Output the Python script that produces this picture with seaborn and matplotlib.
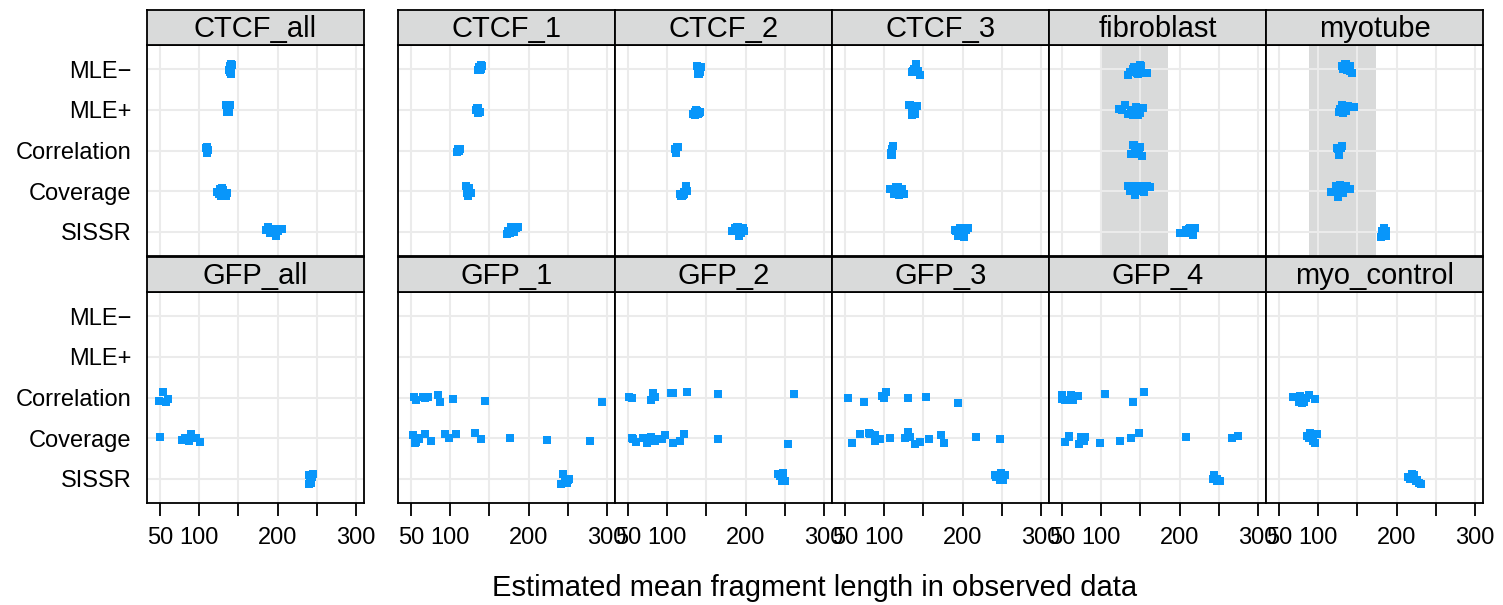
import numpy as np
import pandas as pd
import matplotlib
matplotlib.use("Agg")
import matplotlib.pyplot as plt
import seaborn as sns

sns.set_style("white")
plt.rcParams["font.family"] = ["Liberation Sans", "DejaVu Sans"]
plt.rcParams.update({"text.color": "black", "xtick.color": "black",
                     "ytick.color": "black", "axes.labelcolor": "black"})

METHODS = ["MLE−", "MLE+", "Correlation", "Coverage", "SISSR"]
TOP_PANELS = ["CTCF_all", "CTCF_1", "CTCF_2", "CTCF_3", "fibroblast", "myotube"]
BOTTOM_PANELS = ["GFP_all", "GFP_1", "GFP_2", "GFP_3", "GFP_4", "myo_control"]
X_TICKS = [50, 100, 150, 200, 250, 300]
X_TICK_LABELS = ["50", "100", "", "200", "", "300"]

# known fragment size ranges (grey bands)
SHADE_FIBROBLAST = (100, 185)
SHADE_MYOTUBE = (88, 174)

# estimated mean fragment length per replicate
CTCF_ALL = {
    "MLE−": [138, 139, 139.5, 140, 140.5, 141, 141.5, 139, 140, 141],
    "MLE+": [134, 135, 136, 137, 137.5, 138, 139, 136.5],
    "Correlation": [109, 109.5, 110, 110.5, 111, 110],
    "Coverage": [123, 125, 127, 129, 130, 132, 134, 136, 128, 131],
    "SISSR": [185, 188, 190, 193, 195, 197, 199, 201, 203, 205, 192, 198],
}
CTCF_1 = {
    "MLE−": [136, 137, 138, 139, 140, 141, 138.5, 139.5],
    "MLE+": [133, 134, 135, 136, 137, 138, 135.5],
    "Correlation": [109, 110, 111, 112, 110.5],
    "Coverage": [120, 121.5, 123, 124.5, 126, 122],
    "SISSR": [172, 174, 176, 178, 180, 182, 184, 186, 177, 181],
}
CTCF_2 = {
    "MLE−": [138, 139, 140, 141, 142, 143, 140.5],
    "MLE+": [133, 135, 137, 139, 141, 142, 136, 138],
    "Correlation": [110, 111, 112, 113.5, 111.5],
    "Coverage": [116, 118, 120, 122, 124, 125, 119, 121],
    "SISSR": [182, 184, 186, 188, 190, 192, 194, 196, 197.5, 189, 191],
}
CTCF_3 = {
    "MLE−": [135, 137, 139, 141, 143, 145, 138, 140],
    "MLE+": [131, 133, 135, 137, 139, 141.5, 136],
    "Correlation": [108.5, 109.5, 110, 111, 109],
    "Coverage": [107, 112, 115, 117, 119, 121, 123, 125, 118],
    "SISSR": [190, 192, 194, 196, 198, 200, 202, 204, 206.5, 197, 199],
}
FIBROBLAST = {
    "MLE−": [134, 137, 140, 143, 145, 147, 149, 151, 154, 158, 142, 146],
    "MLE+": [122.5, 126, 130, 134, 138, 141, 144, 147, 150, 153, 140, 145],
    "Correlation": [138, 140, 142, 144, 146, 148, 150, 152, 143, 145],
    "Coverage": [134, 137, 140, 143, 146, 149, 152, 155, 158, 162, 145, 148],
    "SISSR": [201, 205, 208, 211, 213, 215, 217, 220, 212],
}
MYOTUBE = {
    "MLE−": [130, 132, 134, 136, 138, 140, 141, 143, 137],
    "MLE+": [126, 128, 130, 132, 134, 136, 138, 145, 131],
    "Correlation": [124, 125.5, 127, 128.5, 130, 126],
    "Coverage": [116, 120, 123, 126, 128, 130, 132, 135, 140, 125],
    "SISSR": [180, 181.5, 183, 184.5, 186, 187, 183.5],
}
GFP_ALL = {
    "Correlation": [48.7, 53.8, 57.6, 60.2],
    "Coverage": [50, 78, 81.8, 86.9, 89.4, 95.8, 100.9],
    "SISSR": [239.6, 240.5, 241.5, 242.5, 243.5, 244.7, 242],
}
GFP_1 = {
    "Correlation": [53.8, 56.4, 64.8, 67.4, 71.6, 84.4, 86.9, 103.4, 144.1, 293],
    "Coverage": [52.5, 55.5, 56.4, 58.9, 59.8, 67.8, 75, 93.3, 97.9, 107.3,
                 131.4, 139, 176, 223, 277.7],
    "SISSR": [241, 244, 246, 248, 250, 252, 247, 249],
}
GFP_2 = {
    "Correlation": [51.3, 55.1, 79.3, 81.8, 84.4, 104.7, 107.3, 125.1, 164.5, 261.2],
    "Coverage": [55.1, 56.4, 60.2, 69.1, 74.2, 79.3, 84.4, 84.4, 93.3, 97.1,
                 107.3, 116.2, 121.2, 164.5, 253.6],
    "SISSR": [241, 244, 246, 248, 250, 247, 249],
}
GFP_3 = {
    "Correlation": [53.8, 74.2, 97.1, 99.6, 102.2, 130.2, 153, 193.8],
    "Coverage": [58.9, 69.1, 80.5, 81.8, 88.2, 88.2, 94.5, 107.3, 126.3, 130.2,
                 132.7, 139.1, 145.4, 156.9, 172.1, 175.9, 216.7, 247.2],
    "SISSR": [241, 243, 245, 247, 249, 251, 253.5, 248],
}
GFP_4 = {
    "Correlation": [50, 53.8, 50, 61.5, 64, 70.4, 104.7, 140.3, 154.3],
    "Coverage": [53.8, 58.9, 58.9, 71.6, 74.2, 78, 79.3, 98.3, 123.8, 137.8,
                 148, 207.8, 266.3, 273.9],
    "SISSR": [242, 244, 246, 248, 250, 251, 247],
}
MYO_CONTROL = {
    "Correlation": [68, 72, 75, 77, 78, 80, 82, 85, 88, 96, 79, 81],
    "Coverage": [86, 88, 90, 91, 92, 94, 96, 98, 89, 93],
    "SISSR": [214, 217, 220, 222, 224, 226, 228, 230.7, 221],
}

TOP_DATA = [CTCF_ALL, CTCF_1, CTCF_2, CTCF_3, FIBROBLAST, MYOTUBE]
BOTTOM_DATA = [GFP_ALL, GFP_1, GFP_2, GFP_3, GFP_4, MYO_CONTROL]
SHADES = {"fibroblast": SHADE_FIBROBLAST, "myotube": SHADE_MYOTUBE}

W, H = 1503, 605
COLS = [(147, 364), (398, 615), (615, 832), (832, 1049), (1049, 1266), (1266, 1483)]
ROWS = [(10, 45, 256), (257, 292, 503)]  # strip top, panel top, panel bottom

POINT_COLOR = "#0896fa"
STRIP_COLOR = "#d9dada"
GRID_COLOR = "#ebebeb"


def rect(x0, y0, x1, y1):
    return [x0 / W, 1 - y1 / H, (x1 - x0) / W, (y1 - y0) / H]


def to_frame(data):
    rows = [(m, v) for m in METHODS for v in data.get(m, [])]
    return pd.DataFrame(rows, columns=["method", "length"])


np.random.seed(3)
fig = plt.figure(figsize=(W / 100, H / 100), dpi=100)

for r, (names, datasets) in enumerate([(TOP_PANELS, TOP_DATA), (BOTTOM_PANELS, BOTTOM_DATA)]):
    s_top, p_top, p_bot = ROWS[r]
    for c, (name, data) in enumerate(zip(names, datasets)):
        x0, x1 = COLS[c]
        ax = fig.add_axes(rect(x0, p_top, x1, p_bot))
        if name in SHADES:
            ax.axvspan(*SHADES[name], color=STRIP_COLOR, lw=0, zorder=0)
        sns.stripplot(data=to_frame(data), x="length", y="method", order=METHODS,
                      orient="h", jitter=0.14, marker="s", size=5.4,
                      color=POINT_COLOR, linewidth=0, ax=ax, zorder=3)
        ax.set_xlim(33.5, 310)
        ax.set_ylim(4.6, -0.6)
        ax.set_xticks(X_TICKS)
        ax.set_yticks(range(len(METHODS)))
        ax.grid(True, color=GRID_COLOR, lw=1.5)
        ax.set_axisbelow(True)
        ax.set_xlabel("")
        ax.set_ylabel("")
        for sp in ax.spines.values():
            sp.set_visible(True)
            sp.set_color("black")
            sp.set_linewidth(1.3)
        if r == 1:
            ax.set_xticklabels(X_TICK_LABELS)
            ax.tick_params(axis="x", direction="out", length=9, width=1.3,
                           labelsize=17, pad=8, bottom=True, colors="black")
        else:
            ax.tick_params(axis="x", length=0, labelbottom=False)
        if c == 0:
            ax.set_yticklabels(METHODS)
            ax.tick_params(axis="y", length=0, labelsize=17, pad=11, colors="black")
        else:
            ax.tick_params(axis="y", length=0, labelleft=False)

        # strip with the panel name
        sax = fig.add_axes(rect(x0, s_top, x1, p_top))
        sax.set_facecolor(STRIP_COLOR)
        sax.set_xticks([])
        sax.set_yticks([])
        for sp in sax.spines.values():
            sp.set_visible(True)
            sp.set_color("black")
            sp.set_linewidth(1.3)
        sax.text(0.5, 0.45, name, ha="center", va="center", fontsize=21,
                 color="black", transform=sax.transAxes)

fig.text(815 / W, 1 - 588 / H, "Estimated mean fragment length in observed data",
         ha="center", va="center", fontsize=21, color="black")

fig.savefig("out.png", dpi=100)
